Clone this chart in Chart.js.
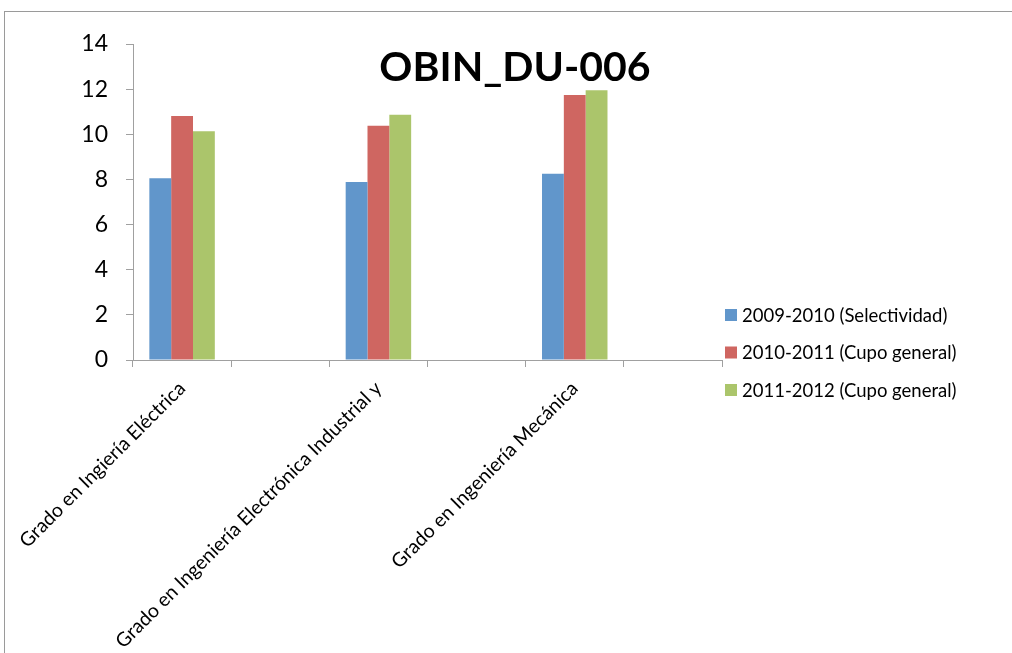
<!DOCTYPE html>
<html>
<head>
<meta charset="utf-8">
<script src="https://cdn.jsdelivr.net/npm/chart.js@4/dist/chart.umd.min.js"></script>
<style>
    html, body { margin: 0; padding: 0; background: #ffffff; overflow: hidden; }
    #wrap { position: relative; width: 1012px; height: 653px; }
    #marco { position: absolute; left: 4px; top: 11px; width: 1100px; height: 700px; border: 1px solid #9a9a9a; pointer-events: none; }
</style>
</head>
<body>
<div id="wrap">
    <canvas id="chartNotas"></canvas>
    <div id="marco"></div>
</div>
<script>
// Datos del grafico (categorias vacias = huecos entre titulaciones)
const categorias = [
    'Grado en Ingiería Eléctrica',
    '',
    'Grado en Ingeniería Electrónica Industrial y',
    '',
    'Grado en Ingeniería Mecánica',
    ''
];
const nombresSeries = ['2009-2010 (Selectividad)', '2010-2011 (Cupo general)', '2011-2012 (Cupo general)'];
const notas0910 = [8.05, null, 7.89, null, 8.25, null];
const notas1011 = [10.81, null, 10.38, null, 11.74, null];
const notas1112 = [10.13, null, 10.86, null, 11.95, null];
const coloresSeries = ['#6196cb', '#cf6661', '#abc56b'];
const tituloGrafico = 'OBIN_DU-006';
const ejeYMax = 14;
const ejeYPaso = 2;

const FUENTE = 'Lato, "Open Sans", sans-serif';

// Titulo superpuesto al area del grafico, como en Excel
const tituloPlugin = {
    id: 'tituloExcel',
    afterDraw(chart) {
        const ctx = chart.ctx;
        ctx.save();
        ctx.font = 'bold 41px ' + FUENTE;
        ctx.fillStyle = '#000000';
        ctx.textAlign = 'center';
        ctx.textBaseline = 'alphabetic';
        ctx.fillText(tituloGrafico, 515, 81);
        ctx.restore();
    }
};

// Leyenda a la derecha, a la altura de la parte baja del grafico
const leyendaPlugin = {
    id: 'leyendaExcel',
    afterDraw(chart) {
        const ctx = chart.ctx;
        const x = chart.chartArea.right + 3;
        ctx.save();
        ctx.font = '18.5px ' + FUENTE;
        ctx.textBaseline = 'middle';
        chart.data.datasets.forEach((ds, i) => {
            const y = 315 + i * 37.5;
            ctx.fillStyle = ds.backgroundColor;
            ctx.fillRect(x, y - 6, 12, 12);
            ctx.fillStyle = '#000000';
            ctx.fillText(ds.label, x + 17, y + 1);
        });
        ctx.restore();
    }
};

const ctx = document.getElementById('chartNotas').getContext('2d');
const chartNotas = new Chart(ctx, {
    type: 'bar',
    data: {
        labels: categorias,
        datasets: [
            { label: nombresSeries[0], data: notas0910, backgroundColor: coloresSeries[0] },
            { label: nombresSeries[1], data: notas1011, backgroundColor: coloresSeries[1] },
            { label: nombresSeries[2], data: notas1112, backgroundColor: coloresSeries[2] }
        ]
    },
    plugins: [tituloPlugin, leyendaPlugin],
    options: {
        responsive: true,
        maintainAspectRatio: false,
        animation: false,
        layout: { padding: { left: 0, top: 44, right: 290, bottom: 0 } },
        datasets: {
            bar: { categoryPercentage: 0.667, barPercentage: 1.0, borderWidth: 0 }
        },
        plugins: {
            legend: { display: false },
            title: { display: false },
            tooltip: { enabled: false }
        },
        scales: {
            x: {
                grid: { offset: true, drawOnChartArea: false, tickLength: 7, color: '#a0a0a0' },
                border: { color: '#a0a0a0', width: 1 },
                ticks: {
                    autoSkip: false,
                    minRotation: 45,
                    maxRotation: 45,
                    padding: 10,
                    color: '#000000',
                    font: { family: FUENTE, size: 19.5 }
                },
                afterFit: (scale) => { scale.height = 293; }
            },
            y: {
                min: 0,
                max: ejeYMax,
                grid: { drawOnChartArea: false, tickLength: 7, color: '#a0a0a0' },
                border: { color: '#a0a0a0', width: 1 },
                ticks: {
                    stepSize: ejeYPaso,
                    padding: 18,
                    color: '#000000',
                    font: { family: FUENTE, size: 23 }
                },
                afterFit: (scale) => { scale.width = 133; }
            }
        }
    }
});
</script>
</body>
</html>
